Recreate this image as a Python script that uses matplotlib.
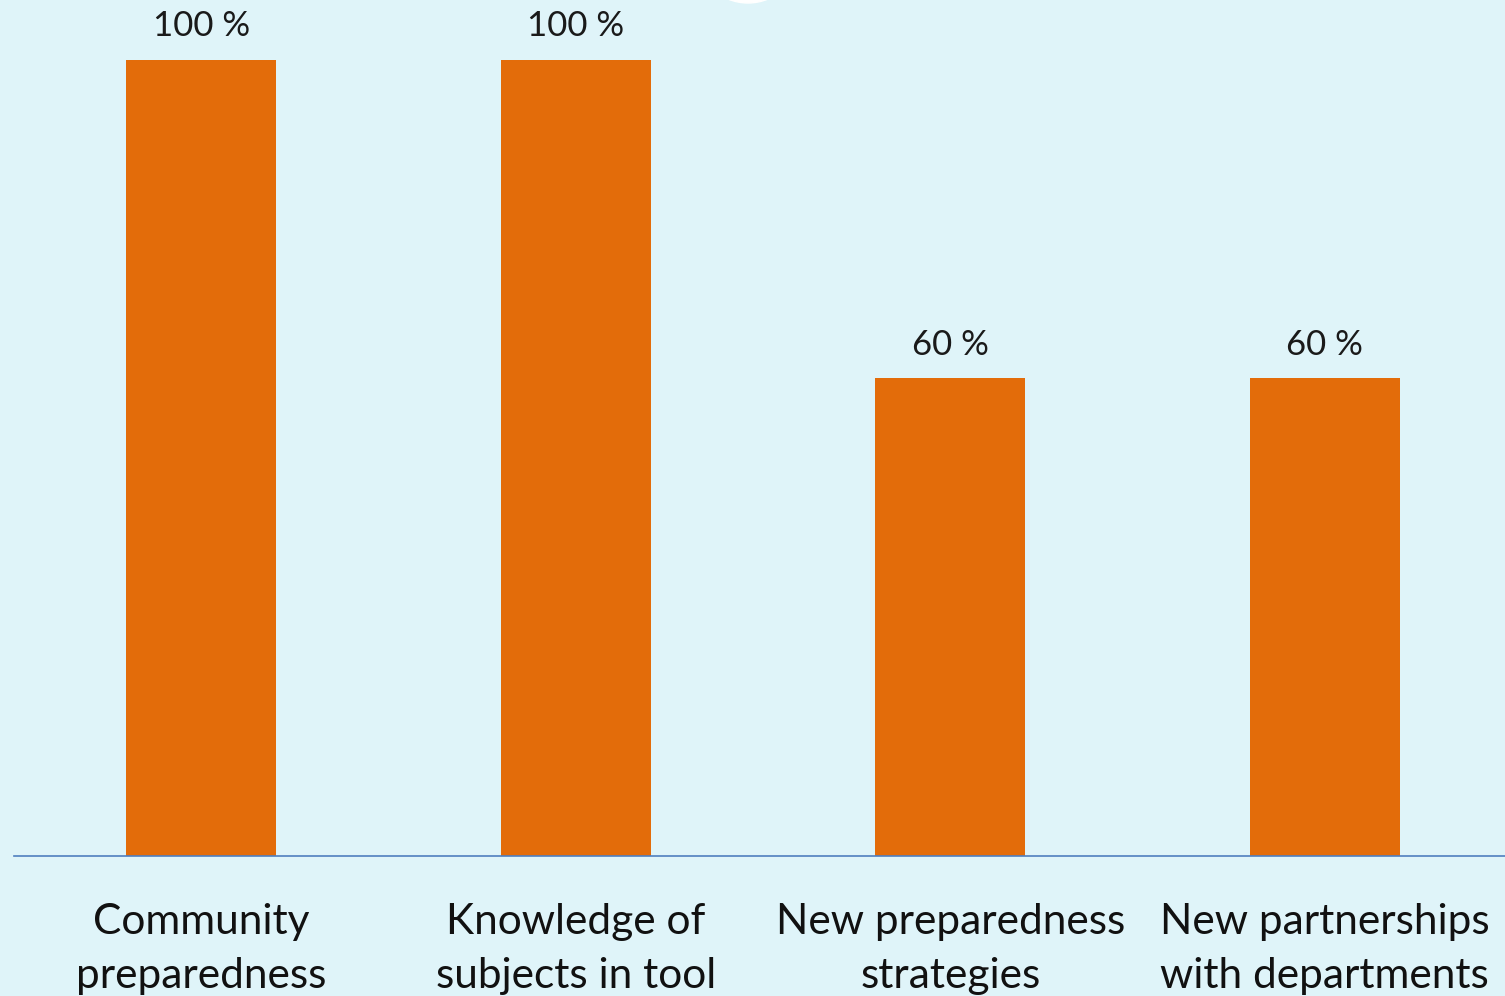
import matplotlib
matplotlib.use("Agg")
import matplotlib.pyplot as plt
from matplotlib.patches import Ellipse

categories = ["Community\npreparedness", "Knowledge of\nsubjects in tool",
              "New preparedness\nstrategies", "New partnerships\nwith departments"]
values = [100, 100, 60, 60]
value_labels = ["100 %", "100 %", "60 %", "60 %"]

BG = "#DFF4F9"
BAR = "#E36C0A"

plt.rcParams['font.family'] = ['Lato', 'DejaVu Sans']

W, H = 1505, 996
fig = plt.figure(figsize=(W / 100, H / 100), dpi=100, facecolor=BG)
left = 14 / W
width = 4 * 374.5 / W
bottom = (H - 856) / H
ax = fig.add_axes([left, bottom, width, 1 - bottom])
ax.set_facecolor(BG)

x = range(len(categories))
bars = ax.bar(x, values, width=0.40, color=BAR, zorder=2)
ax.set_xlim(-0.5, len(categories) - 0.5)
ax.set_ylim(0, 100 * 856 / (856 - 60))

for b, lab in zip(bars, value_labels):
    ax.text(b.get_x() + b.get_width() / 2, b.get_height() + 2.2, lab,
            ha='center', va='bottom', fontsize=25, color='#1a1a1a')

ax.set_xticks(list(x))
ax.set_xticklabels(categories, fontsize=30.5, color='#111111', linespacing=1.5)
ax.tick_params(axis='x', length=0, pad=34)
ax.set_yticks([])
for s in ['top', 'right', 'left']:
    ax.spines[s].set_visible(False)
ax.spines['bottom'].set_color('#4F7FBF')
ax.spines['bottom'].set_linewidth(1.2)
ax.spines['bottom'].set_bounds(-0.5, 3.6)

r = 52.5
fig.add_artist(Ellipse((748 / W, 1 + (r - 3) / H), 2 * r / W, 2 * r / H,
                       color='white', transform=fig.transFigure, zorder=5))

fig.savefig("out.png", dpi=100, facecolor=BG)
